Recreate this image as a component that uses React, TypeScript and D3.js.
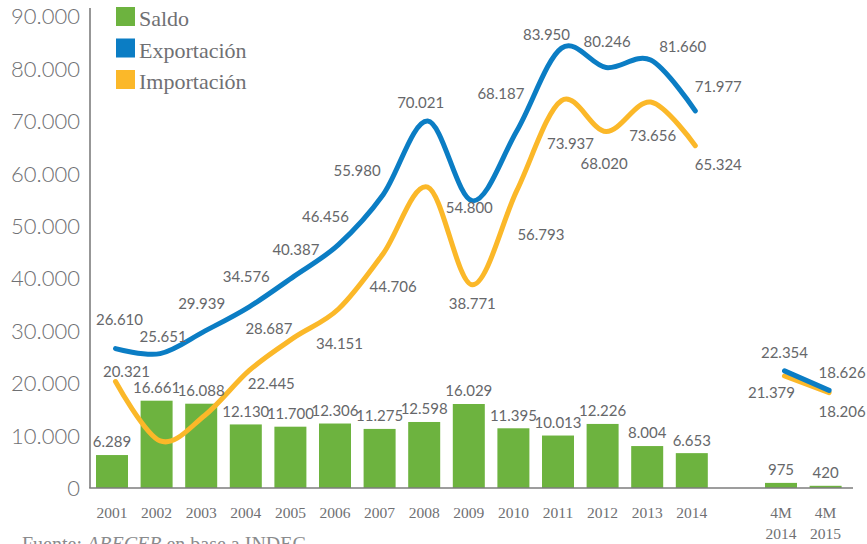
import React from "react";
import * as d3 from "d3";

// ---- Data ----
const years = ["2001","2002","2003","2004","2005","2006","2007","2008","2009","2010","2011","2012","2013","2014"];
const exportacion = [26610,25651,29939,34576,40387,46456,55980,70021,54800,68187,83950,80246,81660,71977];
const importacion = [20321,8990,13851,22445,28687,34151,44706,57423,38771,56793,73937,68020,73656,65324];
const saldo = [6289,16661,16088,12130,11700,12306,11275,12598,16029,11395,10013,12226,8004,6653];

const periods4M = ["4M 2014","4M 2015"];
const exportacion4M = [22354,18626];
const importacion4M = [21379,18206];
const saldo4M = [975,420];

const gapKey = "gap";
const yTicks = [0,10000,20000,30000,40000,50000,60000,70000,80000,90000];
const legendItems = ["Saldo","Exportación","Importación"];
const source = { prefix: "Fuente: ", italic: "ABECEB", suffix: " en base a INDEC" };

// label placement offsets (styling), [dx, dy] from the data point; null = not shown
const expLabelOff: ([number, number] | null)[] = [[4,-29],[3,-17],[-3,-28],[-3,-30],[2,-27],[-13,-28],[-26,-24],[-7,-18],[-3,7],[-16,-37],[-15,-14],[1,-26],[32,-14],[23,-24]];
const impLabelOff: ([number, number] | null)[] = [[11,-10],null,null,[22,13],[-25,-9],[1,35],[10,33],null,[0,19],[24,44],[9,43],[-2,32],[2,34],[23,19]];
const exp4MLabelOff: [number, number][] = [[0,-18],[13,-18]];
const imp4MLabelOff: [number, number][] = [[-13,17],[13,19]];

const W = 867, H = 544;
const GREEN = "#6db33f", BLUE = "#0b7dc4", YELLOW = "#fbb829";
const AXIS = "#7d7d7d", TXT = "#6f7073", LBL = "#66676a";

const locale = d3.formatLocale({ decimal: ",", thousands: ".", grouping: [3], currency: ["", ""] });
const fmt = locale.format(",d");

export default function App() {
  const domain = [...years, gapKey, ...periods4M];
  const x = d3.scaleBand<string>().domain(domain).range([90, 847.6]).paddingInner(0.2825).paddingOuter(0.1345);
  const y = d3.scaleLinear().domain([0, 90000]).range([488, 16.4]);
  const bw = x.bandwidth();
  const cx = (k: string) => (x(k) as number) + bw / 2;
  const shift = 3.5;

  const line = d3.line<[number, number]>().x(d => d[0]).y(d => d[1]).curve(d3.curveCatmullRom.alpha(0));
  const expPts: [number, number][] = years.map((k, i) => [cx(k) + shift, y(exportacion[i])]);
  const impPts: [number, number][] = years.map((k, i) => [cx(k) + shift, y(importacion[i])]);
  const exp4Pts: [number, number][] = periods4M.map((k, i) => [cx(k) + shift, y(exportacion4M[i])]);
  const imp4Pts: [number, number][] = periods4M.map((k, i) => [cx(k) + shift, y(importacion4M[i])]);

  const barKeys = [...years, ...periods4M];
  const barVals = [...saldo, ...saldo4M];

  const labelFont = "Lato, 'Open Sans', sans-serif";
  const serif = "'Liberation Serif', 'DejaVu Serif', serif";

  const lineLabels: { x: number; y: number; v: number }[] = [];
  expPts.forEach((p, i) => { const o = expLabelOff[i]; if (o) lineLabels.push({ x: p[0] + o[0], y: p[1] + o[1], v: exportacion[i] }); });
  impPts.forEach((p, i) => { const o = impLabelOff[i]; if (o) lineLabels.push({ x: p[0] + o[0], y: p[1] + o[1], v: importacion[i] }); });
  exp4Pts.forEach((p, i) => { const o = exp4MLabelOff[i]; lineLabels.push({ x: p[0] + o[0], y: p[1] + o[1], v: exportacion4M[i] }); });
  imp4Pts.forEach((p, i) => { const o = imp4MLabelOff[i]; lineLabels.push({ x: p[0] + o[0], y: p[1] + o[1], v: importacion4M[i] }); });

  return (
    <svg width={W} height={H} style={{ position: "absolute", left: 0, top: 0, display: "block", background: "#fff" }}>
      {/* y tick labels */}
      {yTicks.map(t => (
        <text key={t} x={80} y={y(t)} dy="0.36em" textAnchor="end" fontFamily={labelFont} fontWeight={300} fontSize={22} fill={TXT}>{fmt(t)}</text>
      ))}
      {/* bars */}
      {barKeys.map((k, i) => (
        <rect key={k} x={x(k)} y={y(barVals[i])} width={bw} height={y(0) - y(barVals[i])} fill={GREEN} />
      ))}
      {/* axes */}
      <line x1={90} x2={90} y1={8} y2={488} stroke={AXIS} strokeWidth={1.6} />
      <line x1={89.2} x2={853} y1={488} y2={488} stroke={AXIS} strokeWidth={1.6} />
      {/* lines */}
      <path d={line(expPts) || ""} fill="none" stroke={BLUE} strokeWidth={5} strokeLinecap="round" />
      <path d={line(impPts) || ""} fill="none" stroke={YELLOW} strokeWidth={5} strokeLinecap="round" />
      <path d={line(imp4Pts) || ""} fill="none" stroke={YELLOW} strokeWidth={5} strokeLinecap="round" />
      <path d={line(exp4Pts) || ""} fill="none" stroke={BLUE} strokeWidth={5} strokeLinecap="round" />
      {/* bar labels */}
      {barKeys.map((k, i) => (
        <text key={"s" + k} x={cx(k)} y={y(barVals[i]) - 13} dy="0.36em" textAnchor="middle" fontFamily={labelFont} fontSize={15} fill={LBL}>{fmt(barVals[i])}</text>
      ))}
      {/* line labels */}
      {lineLabels.map((l, i) => (
        <text key={"l" + i} x={l.x} y={l.y} dy="0.36em" textAnchor="middle" fontFamily={labelFont} fontSize={15} fill={LBL}>{fmt(l.v)}</text>
      ))}
      {/* x labels */}
      {years.map(k => (
        <text key={"x" + k} x={cx(k)} y={512} dy="0.36em" textAnchor="middle" fontFamily={serif} fontSize={15.5} fill={TXT}>{k}</text>
      ))}
      {periods4M.map(k => {
        const parts = k.split(" ");
        return (
          <text key={"x" + k} x={cx(k)} y={512} dy="0.36em" textAnchor="middle" fontFamily={serif} fontSize={15.5} fill={TXT}>
            <tspan x={cx(k)}>{parts[0]}</tspan>
            <tspan x={cx(k)} dy={21}>{parts[1]}</tspan>
          </text>
        );
      })}
      {/* legend */}
      {legendItems.map((name, i) => (
        <g key={name} transform={`translate(116, ${7 + i * 31.5})`}>
          <rect width={19} height={19} fill={[GREEN, BLUE, YELLOW][i]} />
          <text x={23} y={19} fontFamily={serif} fontSize={22} fill={TXT}>{name}</text>
        </g>
      ))}
      {/* source */}
      <text x={22} y={551} fontFamily={serif} fontSize={20} fill="#8a8b8d">
        {source.prefix}<tspan fontStyle="italic">{source.italic}</tspan>{source.suffix}
      </text>
    </svg>
  );
}
